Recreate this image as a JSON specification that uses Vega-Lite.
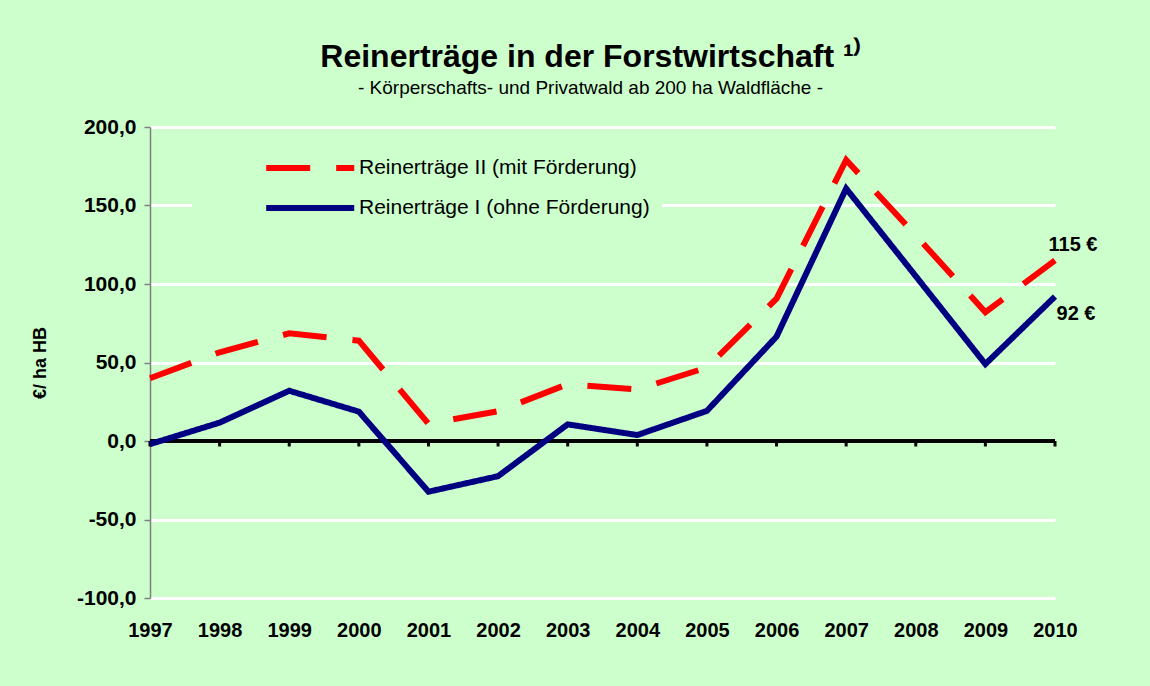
{
  "$schema": "https://vega.github.io/schema/vega-lite/v6.json",
  "autosize": {"type": "none"},
  "padding": {"left": 150, "top": 127, "right": 95, "bottom": 88},
  "width": 905,
  "height": 471,
  "background": "#CCFFCC",
  "config": {
    "view": {"stroke": null},
    "font": "Liberation Sans"
  },
  "title": {
    "text": "Reinerträge in der Forstwirtschaft ¹⁾",
    "subtitle": "- Körperschafts- und Privatwald  ab 200 ha Waldfläche -",
    "anchor": "middle",
    "frame": "group",
    "dx": -12,
    "offset": 17,
    "fontSize": 32,
    "fontWeight": "bold",
    "color": "#000000",
    "subtitleFontSize": 19,
    "subtitleColor": "#000000",
    "subtitlePadding": 5
  },
  "data": {
    "values": [
      {"year": 1997, "series": "Reinerträge II (mit Förderung)", "value": 40},
      {"year": 1998, "series": "Reinerträge II (mit Förderung)", "value": 56.5},
      {"year": 1999, "series": "Reinerträge II (mit Förderung)", "value": 68.6},
      {"year": 2000, "series": "Reinerträge II (mit Förderung)", "value": 63.9},
      {"year": 2001, "series": "Reinerträge II (mit Förderung)", "value": 11},
      {"year": 2002, "series": "Reinerträge II (mit Förderung)", "value": 19},
      {"year": 2003, "series": "Reinerträge II (mit Förderung)", "value": 36.2},
      {"year": 2004, "series": "Reinerträge II (mit Förderung)", "value": 32.8},
      {"year": 2005, "series": "Reinerträge II (mit Förderung)", "value": 46.8},
      {"year": 2006, "series": "Reinerträge II (mit Förderung)", "value": 90.7},
      {"year": 2007, "series": "Reinerträge II (mit Förderung)", "value": 179},
      {"year": 2008, "series": "Reinerträge II (mit Förderung)", "value": 131},
      {"year": 2009, "series": "Reinerträge II (mit Förderung)", "value": 82},
      {"year": 2010, "series": "Reinerträge II (mit Förderung)", "value": 115, "label": "115 €"},
      {"year": 1997, "series": "Reinerträge I (ohne Förderung)", "value": -2},
      {"year": 1998, "series": "Reinerträge I (ohne Förderung)", "value": 11.7},
      {"year": 1999, "series": "Reinerträge I (ohne Förderung)", "value": 32},
      {"year": 2000, "series": "Reinerträge I (ohne Förderung)", "value": 18.7},
      {"year": 2001, "series": "Reinerträge I (ohne Förderung)", "value": -32.3},
      {"year": 2002, "series": "Reinerträge I (ohne Förderung)", "value": -22.4},
      {"year": 2003, "series": "Reinerträge I (ohne Förderung)", "value": 10.6},
      {"year": 2004, "series": "Reinerträge I (ohne Förderung)", "value": 3.8},
      {"year": 2005, "series": "Reinerträge I (ohne Förderung)", "value": 19.2},
      {"year": 2006, "series": "Reinerträge I (ohne Förderung)", "value": 66.5},
      {"year": 2007, "series": "Reinerträge I (ohne Förderung)", "value": 160.8},
      {"year": 2008, "series": "Reinerträge I (ohne Förderung)", "value": 105},
      {"year": 2009, "series": "Reinerträge I (ohne Förderung)", "value": 49},
      {"year": 2010, "series": "Reinerträge I (ohne Förderung)", "value": 92, "label": "92 €"}
    ]
  },
  "encoding": {
    "x": {
      "field": "year",
      "type": "quantitative",
      "scale": {"domain": [1997, 2010], "nice": false, "zero": false},
      "axis": {
        "title": null,
        "values": [1997, 1998, 1999, 2000, 2001, 2002, 2003, 2004, 2005, 2006, 2007, 2008, 2009, 2010],
        "format": "d",
        "grid": false,
        "domain": false,
        "ticks": false,
        "labelPadding": 22,
        "labelFontSize": 20,
        "labelFontWeight": "bold",
        "labelColor": "#000000",
        "labelFlush": false,
        "labelOverlap": false
      }
    },
    "y": {
      "field": "value",
      "type": "quantitative",
      "scale": {"domain": [-100, 200], "nice": false},
      "axis": {
        "title": "€/ ha HB",
        "titleFontSize": 18,
        "titleFontWeight": "bold",
        "titleColor": "#000000",
        "titlePadding": 27,
        "values": [-100, -50, 0, 50, 100, 150, 200],
        "labelExpr": "replace(replace(format(datum.value, '.1f'), '.', ','), '−', '-')",
        "labelFontSize": 21,
        "labelFontWeight": "bold",
        "labelColor": "#000000",
        "labelPadding": 8,
        "domainColor": "#808080",
        "domainWidth": 1.5,
        "tickColor": "#808080",
        "tickSize": 6,
        "tickWidth": 1.5,
        "gridColor": "#FFFFFF",
        "gridWidth": 3,
        "gridOpacity": 1
      }
    }
  },
  "layer": [
    {
      "mark": {"type": "rule", "color": "#000000", "strokeWidth": 3},
      "encoding": {"x": {"value": 0}, "x2": {"value": 905}, "y": {"datum": 0}}
    },
    {
      "transform": [{"filter": "datum.series === 'Reinerträge I (ohne Förderung)'"}],
      "mark": {"type": "rule", "color": "#000000", "strokeWidth": 3},
      "encoding": {"y": {"datum": 0}, "y2": {"datum": -3.5}}
    },
    {
      "mark": {"type": "line", "strokeWidth": 6, "strokeCap": "butt", "strokeJoin": "miter"},
      "encoding": {
        "color": {
          "field": "series",
          "type": "nominal",
          "sort": null,
          "scale": {
            "domain": ["Reinerträge II (mit Förderung)", "Reinerträge I (ohne Förderung)"],
            "range": ["#FF0000", "#000080"]
          },
          "legend": {
            "title": " ",
            "titleOrient": "left",
            "titlePadding": 59,
            "orient": "none",
            "legendX": 42,
            "legendY": 17,
            "fillColor": "#CCFFCC",
            "padding": 12,
            "symbolType": "M-1,0H9",
            "symbolSize": 310,
            "symbolStrokeWidth": 6,
            "labelFontSize": 21,
            "labelColor": "#000000",
            "labelOffset": 72,
            "labelLimit": 500,
            "rowPadding": 16,
            "symbolOpacity": 1
          }
        },
        "strokeDash": {
          "field": "series",
          "type": "nominal",
          "sort": null,
          "scale": {
            "domain": ["Reinerträge II (mit Förderung)", "Reinerträge I (ohne Förderung)"],
            "range": [[44, 26], [1, 0]]
          },
          "legend": null
        }
      }
    },
    {
      "transform": [{"filter": "datum.label === '115 €'"}],
      "mark": {"type": "text", "fontSize": 20, "fontWeight": "bold", "color": "#000000", "dx": 18, "dy": -15},
      "encoding": {"text": {"field": "label"}}
    },
    {
      "transform": [{"filter": "datum.label === '92 €'"}],
      "mark": {"type": "text", "fontSize": 20, "fontWeight": "bold", "color": "#000000", "dx": 21, "dy": 17},
      "encoding": {"text": {"field": "label"}}
    }
  ]
}
